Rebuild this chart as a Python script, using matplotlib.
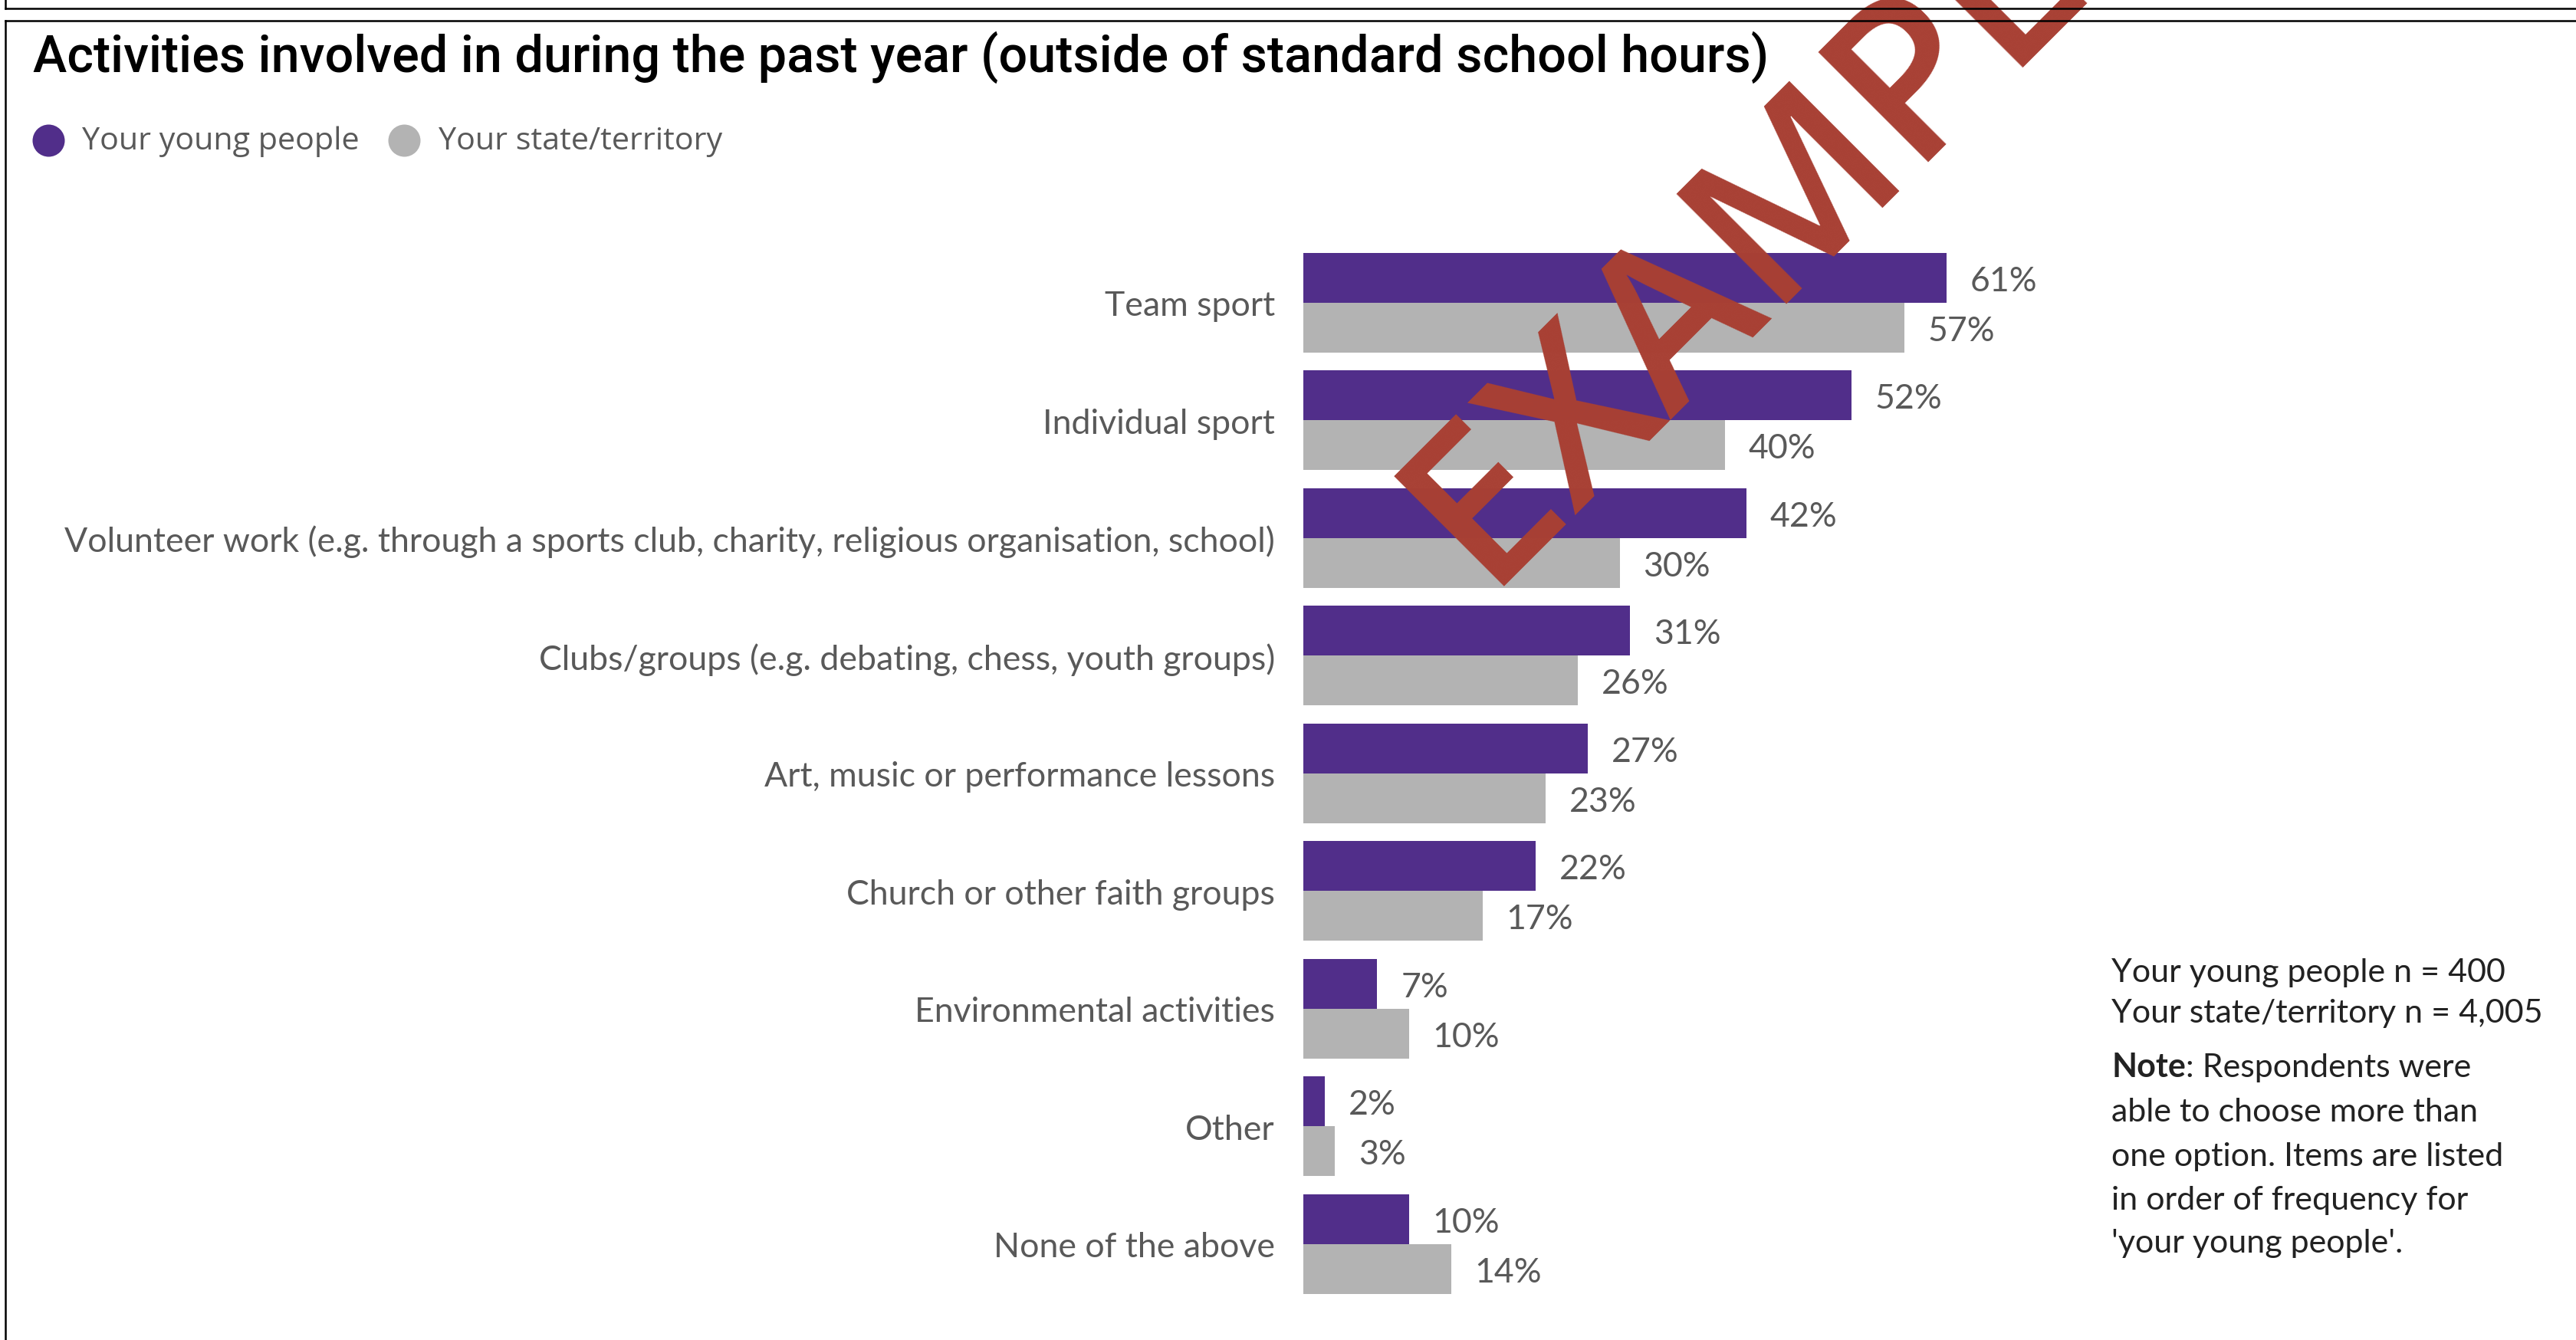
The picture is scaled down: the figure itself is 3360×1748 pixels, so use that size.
import matplotlib
matplotlib.use("Agg")
import matplotlib.pyplot as plt
from matplotlib.lines import Line2D
import numpy as np

# ---------------- data ----------------
categories = [
    "Team sport",
    "Individual sport",
    "Volunteer work (e.g. through a sports club, charity, religious organisation, school)",
    "Clubs/groups (e.g. debating, chess, youth groups)",
    "Art, music or performance lessons",
    "Church or other faith groups",
    "Environmental activities",
    "Other",
    "None of the above",
]
young_people = [61, 52, 42, 31, 27, 22, 7, 2, 10]
state_territory = [57, 40, 30, 26, 23, 17, 10, 3, 14]
series_names = ["Your young people", "Your state/territory"]
title_text = "Activities involved in during the past year (outside of standard school hours)"
sample_lines = ["Your young people n = 400", "Your state/territory n = 4,005"]
note_head = "Note"
note_first = ": Respondents were"
note_lines = ["able to choose more than", "one option. Items are listed",
              "in order of frequency for", "'your young people'."]
watermark = "EXAMPLE"

# ---------------- style ----------------
PURPLE = "#512E8A"
GREY = "#B3B3B3"
LABEL_GREY = "#595959"
NOTE_COL = "#222222"
RED = "#A84034"
LABEL_FONT = ["Lato", "DejaVu Sans"]
TITLE_FONT = ["Roboto", "DejaVu Sans"]
LEGEND_FONT = ["Open Sans", "DejaVu Sans"]
WM_FONT = ["Open Sans", "DejaVu Sans"]

W, H, DPI = 3360, 1749, 100
fig = plt.figure(figsize=(W / DPI, H / DPI), dpi=DPI)
fig.patch.set_facecolor("white")
renderer = fig.canvas.get_renderer()


def fx(px):
    return px / W


def fy(py):
    return 1 - py / H


def fitted_size(text, family, target_px, weight="normal", base=30.0):
    t = fig.text(0, 0, text, fontsize=base, family=family, weight=weight)
    w = t.get_window_extent(renderer).width
    t.remove()
    return base * target_px / w


label_size = fitted_size(categories[2], LABEL_FONT, 1577)
note_size = fitted_size(sample_lines[1], LABEL_FONT, 563)
title_size = fitted_size(title_text, TITLE_FONT, 2260, weight="medium")
legend_size = fitted_size(series_names[0], LEGEND_FONT, 362)

# ---------------- axes ----------------
pitch_px = 153.5
first_center_px = 395.7
ylim_top, ylim_bot = -0.6, 8.6
ax_top_px = first_center_px + ylim_top * pitch_px
ax_h_px = (ylim_bot - ylim_top) * pitch_px
ax_left_px = 1700
px_per_pct = 13.75
ax_w_px = 100 * px_per_pct
ax = fig.add_axes([fx(ax_left_px), fy(ax_top_px + ax_h_px), ax_w_px / W, ax_h_px / H])
ax.set_xlim(0, 100)
ax.set_ylim(ylim_bot, ylim_top)
for s in ax.spines.values():
    s.set_visible(False)
ax.set_xticks([])
ax.patch.set_alpha(0)

y = np.arange(len(categories))
h = 65 / pitch_px
ax.barh(y - h / 2, young_people, height=h, color=PURPLE, zorder=2)
ax.barh(y + h / 2, state_territory, height=h, color=GREY, zorder=2)

ax.set_yticks(y)
ax.set_yticklabels(categories, fontsize=label_size, color=LABEL_GREY, family=LABEL_FONT)
ax.tick_params(axis="y", length=0, pad=37 * 72 / DPI)

off = 31 / px_per_pct
for yy, v in zip(y - h / 2, young_people):
    ax.text(v + off, yy, f"{v}%", va="center_baseline", ha="left",
            fontsize=label_size, color=LABEL_GREY, family=LABEL_FONT, zorder=3)
for yy, v in zip(y + h / 2, state_territory):
    ax.text(v + off, yy, f"{v}%", va="center_baseline", ha="left",
            fontsize=label_size, color=LABEL_GREY, family=LABEL_FONT, zorder=3)

# ---------------- title & legend ----------------
fig.text(fx(43), fy(94), title_text, fontsize=title_size, family=TITLE_FONT,
         weight="medium", color="black", va="baseline", ha="left")

for cx, col, tx, name in [(63, PURPLE, 107, series_names[0]), (527, GREY, 572, series_names[1])]:
    fig.add_artist(Line2D([fx(cx)], [fy(184)], marker="o", markersize=42 * 72 / DPI,
                          color=col, markeredgewidth=0, transform=fig.transFigure))
    fig.text(fx(tx), fy(195), name, fontsize=legend_size, family=LEGEND_FONT,
             color=LABEL_GREY, va="baseline", ha="left")

# ---------------- notes ----------------
nx = 2754
for txt, by in zip(sample_lines, [1281, 1334]):
    fig.text(fx(nx), fy(by), txt, fontsize=note_size, family=LABEL_FONT,
             color=NOTE_COL, va="baseline", ha="left")
t_head = fig.text(fx(nx), fy(1405), note_head, fontsize=note_size, family=LABEL_FONT,
                  weight="bold", color=NOTE_COL, va="baseline", ha="left")
hw = t_head.get_window_extent(renderer).width
fig.text(fx(nx + hw), fy(1405), note_first, fontsize=note_size, family=LABEL_FONT,
         color=NOTE_COL, va="baseline", ha="left")
for txt, by in zip(note_lines, [1463, 1521, 1578, 1634]):
    fig.text(fx(nx), fy(by), txt, fontsize=note_size, family=LABEL_FONT,
             color=NOTE_COL, va="baseline", ha="left")

# ---------------- frame lines ----------------
lw = 2.5 * 72 / DPI
for yy in [12, 28]:
    fig.add_artist(Line2D([fx(7), 1], [fy(yy), fy(yy)], color="black", lw=lw,
                          transform=fig.transFigure, zorder=20))
fig.add_artist(Line2D([fx(7), fx(7)], [fy(28), 0], color="black", lw=lw,
                      transform=fig.transFigure, zorder=20))
fig.add_artist(Line2D([fx(7), fx(7)], [1, fy(12)], color="black", lw=lw,
                      transform=fig.transFigure, zorder=20))

# ---------------- watermark ----------------
fig.text(fx(1935), fy(765), watermark, fontsize=204, family=WM_FONT, color=RED,
         weight="semibold", rotation=45, rotation_mode="anchor", ha="left",
         va="baseline", zorder=10)

fig.savefig("out.png", dpi=DPI, facecolor="white")
